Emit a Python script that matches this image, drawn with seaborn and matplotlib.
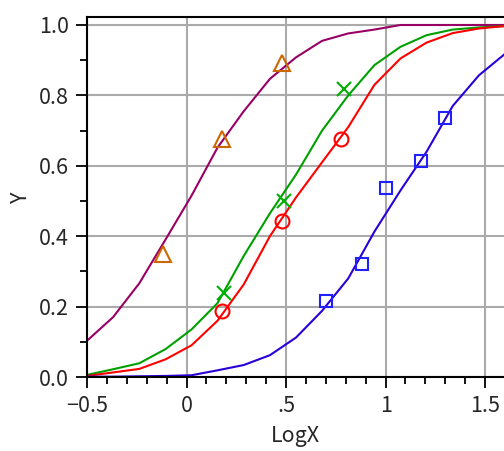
import matplotlib
matplotlib.use("Agg")
import matplotlib.pyplot as plt
import pandas as pd
import seaborn as sns
from matplotlib.ticker import MultipleLocator

# x positions of the fitted curves
curve_x = [-0.5, -0.369, -0.2375, -0.106, 0.025, 0.156, 0.2875, 0.419, 0.55,
           0.681, 0.8125, 0.944, 1.075, 1.206, 1.3375, 1.469, 1.6]

purple_y = [0.103, 0.17, 0.266, 0.39, 0.515, 0.652, 0.755, 0.847, 0.908,
            0.955, 0.976, 0.987, 1.0, 1.0, 1.0, 1.0, 1.0]
green_y = [0.006, 0.022, 0.039, 0.079, 0.135, 0.21, 0.344, 0.465, 0.575,
           0.70, 0.80, 0.886, 0.938, 0.971, 0.987, 0.993, 0.997]
red_y = [0.003, 0.013, 0.023, 0.05, 0.09, 0.16, 0.263, 0.40, 0.51,
         0.61, 0.71, 0.83, 0.905, 0.95, 0.977, 0.99, 0.997]
blue_y = [0.001, 0.001, 0.002, 0.003, 0.005, 0.019, 0.034, 0.062, 0.112,
          0.188, 0.28, 0.413, 0.53, 0.64, 0.77, 0.857, 0.918]

# measured points
tri_x = [-0.12, 0.18, 0.48]
tri_y = [0.35, 0.676, 0.893]
cross_x = [0.19, 0.49, 0.79]
cross_y = [0.24, 0.50, 0.818]
circ_x = [0.18, 0.48, 0.775]
circ_y = [0.188, 0.443, 0.676]
sq_x = [0.70, 0.88, 1.0, 1.18, 1.30]
sq_y = [0.216, 0.32, 0.536, 0.614, 0.735]

xtick_vals = [-0.5, 0, 0.5, 1, 1.5]
xtick_labels = ["\u22120.5", "0", ".5", "1", "1.5"]
ytick_vals = [0.0, 0.2, 0.4, 0.6, 0.8, 1.0]
ytick_labels = ["0.0", "0.2", "0.4", "0.6", "0.8", "1.0"]

sns.set_style("white")
plt.rcParams['font.family'] = ['Noto Sans CJK JP', 'DejaVu Sans']

fig = plt.figure(figsize=(5.04, 4.51), dpi=100)
ax = fig.add_axes([87 / 504, 74 / 451, 417 / 504, 360 / 451])

curves = pd.DataFrame({"x": curve_x, "purple": purple_y, "green": green_y,
                       "red": red_y, "blue": blue_y})
line_colors = {"purple": "#990066", "green": "#00a000", "red": "#ff0000", "blue": "#2a00d8"}
for name, col in line_colors.items():
    sns.lineplot(data=curves, x="x", y=name, color=col, linewidth=1.5, ax=ax,
                 estimator=None, sort=False)

sns.lineplot(x=tri_x, y=tri_y, ax=ax, linestyle="", marker="^", markersize=11,
             markerfacecolor="none", markeredgecolor="#cc6600", markeredgewidth=1.5)
sns.lineplot(x=cross_x, y=cross_y, ax=ax, linestyle="", marker="x", markersize=10,
             markeredgecolor="#00b000", markeredgewidth=1.5)
sns.lineplot(x=circ_x, y=circ_y, ax=ax, linestyle="", marker="o", markersize=10,
             markerfacecolor="none", markeredgecolor="#ff0000", markeredgewidth=1.5)
sns.lineplot(x=sq_x, y=sq_y, ax=ax, linestyle="", marker="s", markersize=9,
             markerfacecolor="none", markeredgecolor="#2020ff", markeredgewidth=1.5)

ax.set_xlim(-0.5, 1.595)
ax.set_ylim(0, 1.0227)
ax.set_xticks(xtick_vals)
ax.set_xticklabels(xtick_labels)
ax.set_yticks(ytick_vals)
ax.set_yticklabels(ytick_labels)
ax.xaxis.set_minor_locator(MultipleLocator(0.1))
ax.yaxis.set_minor_locator(MultipleLocator(0.1))
ax.tick_params(which="major", direction="out", length=8, width=1.3, labelsize=15.5,
               color="black", pad=5)
ax.tick_params(which="minor", direction="out", length=5, width=1.3, color="black")
ax.tick_params(axis="x", which="both", bottom=True)
ax.tick_params(axis="y", which="both", left=True)

ax.grid(True, which="major", color="#aaaaaa", linewidth=1.5)
ax.set_axisbelow(True)
for side in ["left", "bottom", "top"]:
    ax.spines[side].set_color("black")
    ax.spines[side].set_linewidth(1.5)
ax.spines["right"].set_visible(False)

ax.set_xlabel("LogX", fontsize=15.5, labelpad=6)
ax.set_ylabel("Y", fontsize=15.5, labelpad=5)

fig.savefig("out.png", dpi=100)
